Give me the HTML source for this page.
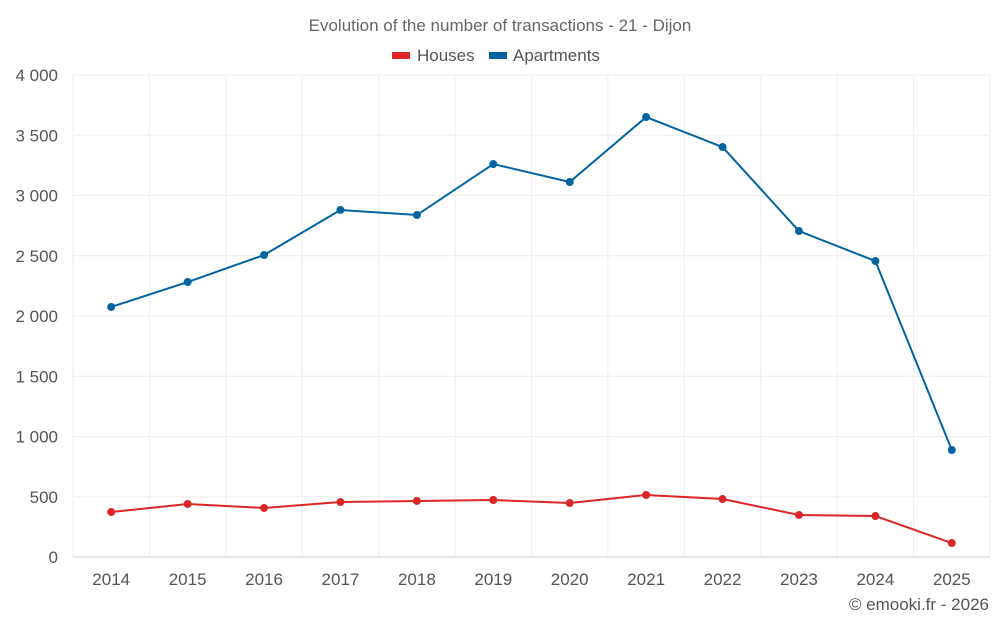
<!DOCTYPE html>
<html><head><meta charset="utf-8"><style>
body{margin:0;background:#fff;font-family:"Liberation Sans",sans-serif;}
svg text{font-family:"Liberation Sans",sans-serif;}
</style></head><body>
<svg id="chart" width="1000" height="625" xmlns="http://www.w3.org/2000/svg">
<text x="500" y="31" text-anchor="middle" font-size="17" fill="#666">Evolution of the number of transactions - 21 - Dijon</text>
<g><rect x="392" y="52" width="18" height="7" fill="#dc2626"/><text x="417" y="61" font-size="17" fill="#555">Houses</text></g>
<g><rect x="489" y="52" width="18" height="7" fill="#0064a0"/><text x="513" y="61" font-size="17" fill="#555">Apartments</text></g>
<g id="grid"></g><g id="axes"></g><g id="series"></g>
<text x="989" y="610" text-anchor="end" font-size="17" fill="#555">© emooki.fr - 2026</text>
</svg>
<script>
const categories=["2014","2015","2016","2017","2018","2019","2020","2021","2022","2023","2024","2025"];
const houses=[373,440,407,456,465,473,448,515,481,349,340,116];
const apartments=[2075,2282,2506,2880,2838,3261,3112,3651,3402,2705,2456,888];
const yTicks=[0,500,1000,1500,2000,2500,3000,3500,4000];
const yLabels=["0","500","1 000","1 500","2 000","2 500","3 000","3 500","4 000"];
const L=73,R=990,T=75,B=557,yMax=4000;
const bw=(R-L)/categories.length;
const x=i=>L+bw*(i+0.5);
const y=v=>B-(v/yMax)*(B-T);
const NS="http://www.w3.org/2000/svg";
function mk(tag,attrs,parent){const e=document.createElementNS(NS,tag);for(const k in attrs)e.setAttribute(k,attrs[k]);document.getElementById(parent).appendChild(e);return e;}
yTicks.forEach((t,i)=>{
 const g=mk('line',{x1:L,x2:R,y1:y(t),y2:y(t),stroke:i==0?'#ccc':'#eee'},'grid');
 
 
 const tx=mk('text',{x:L-15,y:y(t)+6,'text-anchor':'end','font-size':17,fill:'#555'},'axes');
 tx.textContent=yLabels[i];
 
 
});
for(let i=0;i<=categories.length;i++){
 const g=mk('line',{x1:L+bw*i,x2:L+bw*i,y1:T,y2:B,stroke:'#eee'},'grid');
 
 
}
categories.forEach((c,i)=>{
 const tx=mk('text',{x:x(i),y:585,'text-anchor':'middle','font-size':17,fill:'#555'},'axes');
 tx.textContent=c;
 
 
});
function series(data,color,name){
 const p=mk('polyline',{points:data.map((v,i)=>x(i)+','+y(v)).join(' '),fill:'none',stroke:color,'stroke-width':2},'series');
 
 
 data.forEach((v,i)=>{
  const c=mk('circle',{cx:x(i),cy:y(v),r:4,fill:color},'series');
  
  
 });
}
series(apartments,'#0064a0','apartments');
series(houses,'#dc2626','houses');
</script>
</body></html>
